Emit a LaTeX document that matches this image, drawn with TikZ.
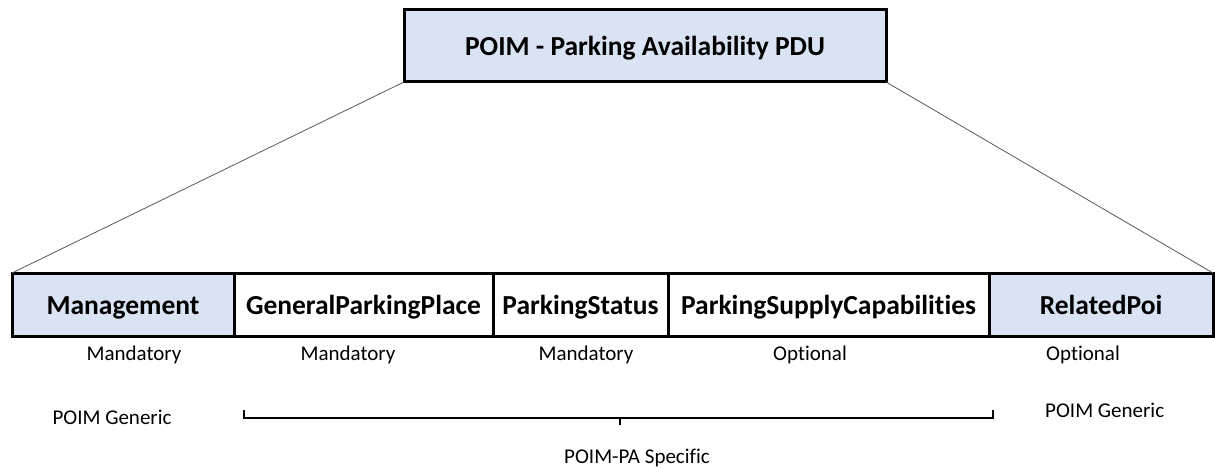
\documentclass[tikz,border=0pt]{standalone}
\usepackage{fontspec}
\setmainfont{Carlito}[Ligatures={NoCommon,NoContextual}]
\usepackage{tikz}
\usetikzlibrary{positioning}

\definecolor{boxblue}{RGB}{218,227,243}

\begin{document}
\begin{tikzpicture}[x=1pt, y=-1pt,
  field/.style={draw, line width=3pt, outer sep=0pt, minimum height=63pt, inner sep=0pt,
    text height=19pt, text depth=0pt, font=\fontsize{27.5}{30}\selectfont\bfseries},
  generic/.style={field, fill=boxblue},
  lbl/.style={font=\fontsize{21}{23}\selectfont, inner sep=0pt}]
  \useasboundingbox (0,0) rectangle (1215,468);

  \node[generic, minimum width=482pt, minimum height=72pt] (pdu) at (645,46) {POIM - Parking Availability PDU};

  \node[generic, minimum width=222pt, anchor=west] (mgmt) at (12,304.5) {Management};
  \node[field, minimum width=259pt, right=0pt of mgmt] (gpp) {GeneralParkingPlace};
  \node[field, minimum width=175pt, right=0pt of gpp] (pstat) {ParkingStatus};
  \node[field, minimum width=321pt, right=0pt of pstat] (psc) {ParkingSupplyCapabilities};
  \node[generic, minimum width=224pt, right=0pt of psc] (rpoi) {RelatedPoi};

  \draw[gray!70!black, line width=0.8pt] (pdu.south west) -- (mgmt.north west);
  \draw[gray!70!black, line width=0.8pt] (pdu.south east) -- (rpoi.north east);

  \node[lbl] (mgmtreq) at (134,355) {Mandatory};
  \node[lbl] (gppreq) at (348,355) {Mandatory};
  \node[lbl] (pstatreq) at (586,355) {Mandatory};
  \node[lbl] (pscreq) at (810,355) {Optional};
  \node[lbl, anchor=west] (rpoireq) at (1046,355) {Optional};

  \node[lbl] (mgmtkind) at (112,417) {POIM Generic};
  \node[lbl, anchor=west] (rpoikind) at (1045,410) {POIM Generic};

  % bracket over the specific part
  \coordinate (brl) at (244,418);
  \coordinate (brr) at (993,418);
  \coordinate (brm) at (620,418);
  \draw[line width=2pt] ([yshift=8pt]brl) -- (brl) -- (brr) -- ([yshift=8pt]brr);
  \draw[line width=2pt] (brm) -- ([yshift=-7pt]brm);
  \node[lbl] (pakind) at (637,458) {POIM-PA Specific};
\end{tikzpicture}
\end{document}
